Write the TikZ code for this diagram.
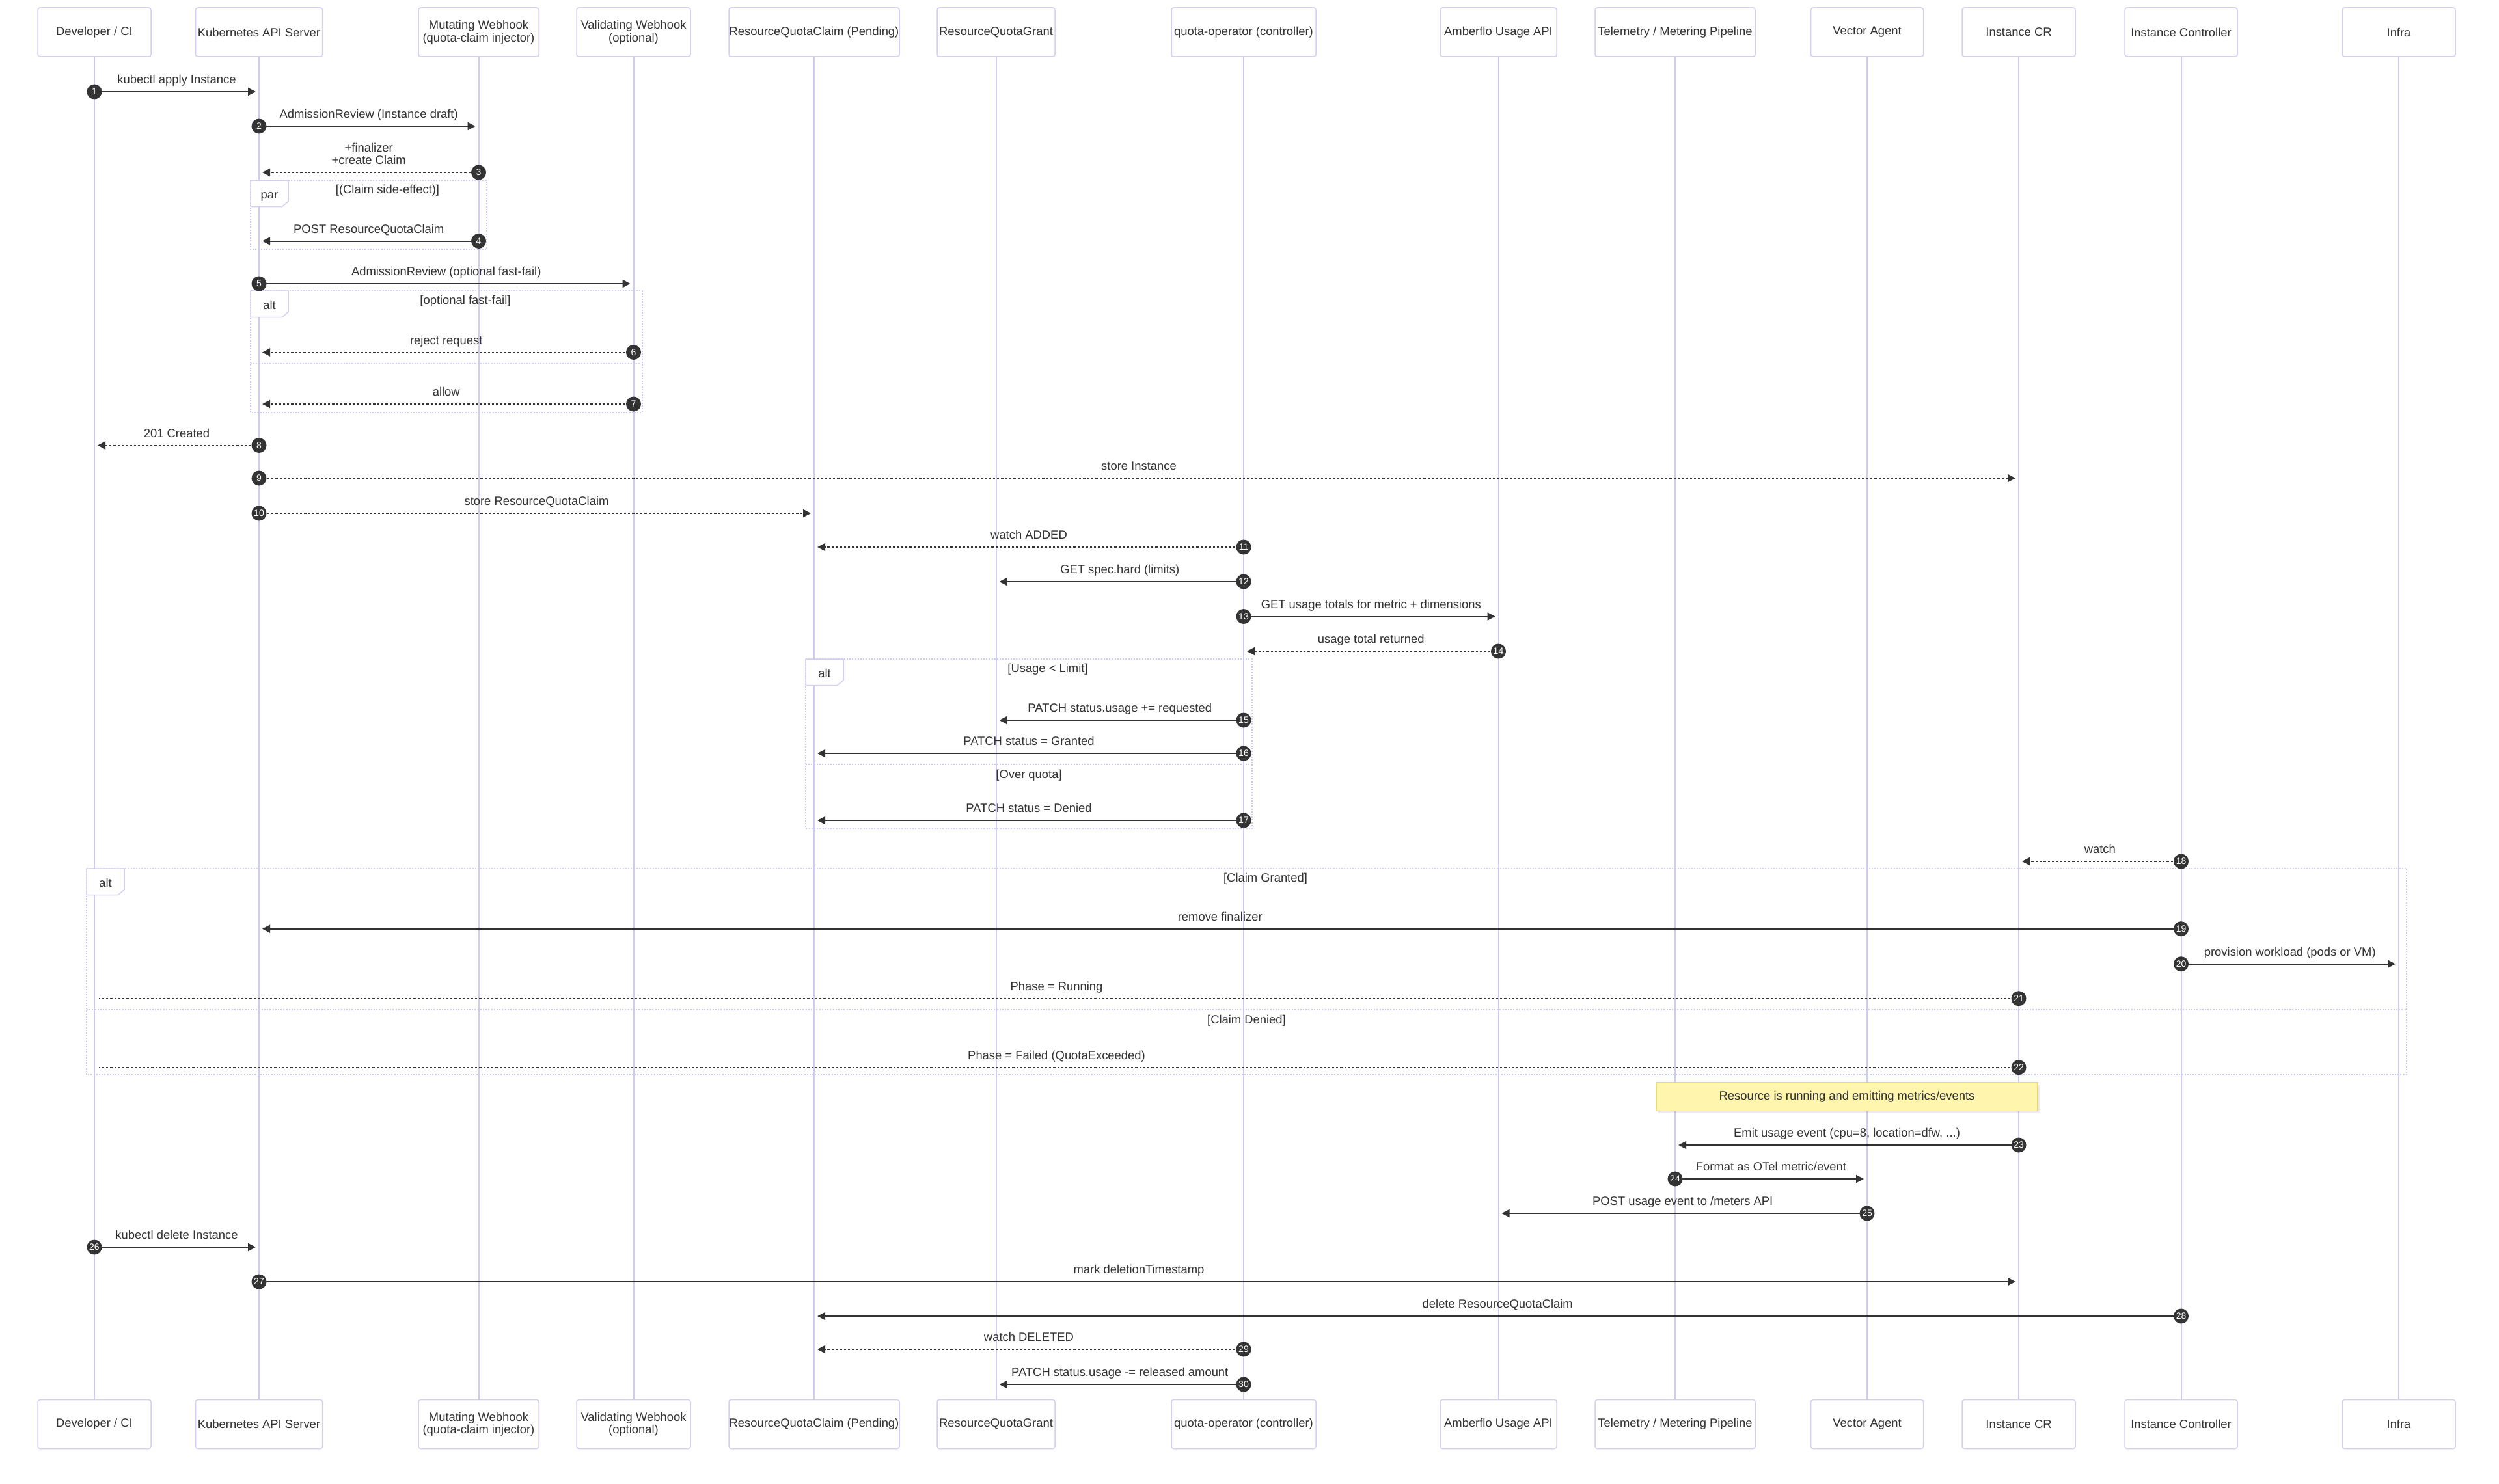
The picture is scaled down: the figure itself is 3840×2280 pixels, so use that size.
\documentclass[tikz,border=0pt]{standalone}
\usepackage{fontspec}
\setmainfont{Liberation Sans}
\usetikzlibrary{calc,arrows.meta}

\definecolor{ink}{HTML}{333333}
\definecolor{actorline}{RGB}{214,206,243}
\definecolor{lifeln}{RGB}{206,204,240}
\definecolor{loopln}{RGB}{204,202,240}
\definecolor{notefill}{HTML}{FFF5AD}
\definecolor{noteline}{RGB}{228,218,128}

\newcommand\txtfont{\fontsize{18.4}{19.5}\selectfont}

\tikzset{
  actorbox/.style={draw=actorline, line width=1.5pt, fill=white, rounded corners=3.5pt,
    minimum height=75pt, inner sep=0pt, align=center, text=ink, font=\txtfont},
  lifeline/.style={draw=lifeln, line width=2pt},
  msgline/.style={draw=ink, line width=2pt, -{Triangle[length=12pt,width=12pt]}},
  replyline/.style={msgline, dash pattern=on 3.3pt off 3pt},
  openreply/.style={draw=ink, line width=2pt, dash pattern=on 3.3pt off 3pt},
  msglabel/.style={text=ink, font=\txtfont, anchor=base, inner sep=0pt},
  seqnum/.style={circle, fill=ink, text=white, minimum size=23pt, inner sep=0pt,
    font=\fontsize{14}{14}\selectfont},
  loopframe/.style={draw=loopln, line width=2pt, dash pattern=on 2pt off 2.2pt},
  looptag/.style={draw=actorline, line width=1.5pt, fill=white},
  condtext/.style={text=ink, font=\txtfont, anchor=base, inner sep=0pt},
  notebox/.style={draw=noteline, line width=1.5pt, fill=notefill, text=ink, font=\txtfont,
    minimum width=586pt, minimum height=43.5pt, inner sep=0pt}
}

% message: style, from, to, y, end offset, number, label
\newcommand\seqmsg[7]{%
  \draw[#1] (#2 |- 0,#4) -- ($(#3 |- 0,#4)+(#5,0)$);
  \node[msglabel] (m#6) at ($(#2 |- 0,#4)!0.5!(#3 |- 0,#4)+(0,-12.5)$) {#7};
  \node[seqnum] (n#6) at (#2 |- 0,#4) {#6};
}

% combined fragment: name, x1, x2, y1, y2, tag, condition
\newcommand\fragment[7]{%
  \draw[loopframe] (#2,#4) rectangle (#3,#5);
  \draw[looptag] (#2,#4) -- ++(58,0) -- ++(0,32.5) -- ++(-9.5,8) -- (#2,{#4+40.5}) -- cycle;
  \node[condtext] (#1c) at ({(#2+58+#3)/2},{#4+20.5}) {#7};
  \node[condtext] (#1t) at ({#2+29},{#4+28.5}) {#6};
}

% fragment section divider: name, x1, x2, y, text
\newcommand\divider[5]{%
  \draw[loopframe] (#2,#4) -- (#3,#4);
  \node[condtext] (#1) at ({(#2+#3)/2},{#4+21.5}) {#5};
}

\begin{document}
\begin{tikzpicture}[x=1pt, y=-1pt]
\useasboundingbox (0,0) rectangle (3840,2280);

% participants, top and bottom, with lifelines
\foreach \n/\x/\w/\t in {
  dev/145/174/{Developer / CI},
  api/398/195/{Kubernetes API Server},
  mut/735.5/185/{Mutating Webhook\\(quota-claim injector)},
  val/973.5/175/{Validating Webhook\\(optional)},
  rqc/1251/262/{ResourceQuotaClaim (Pending)},
  rqg/1530.5/181/{ResourceQuotaGrant},
  qop/1911/222/{quota-operator (controller)},
  amb/2302.5/179/{Amberflo Usage API},
  tel/2574/246/{Telemetry / Metering Pipeline},
  vec/2869/173/{Vector Agent},
  icr/3102/174/{Instance CR},
  ict/3351.5/173/{Instance Controller},
  inf/3686/174/{Infra}}{
  \node[actorbox, minimum width=\w pt] (\n) at (\x,49.5) {\t};
  \node[actorbox, minimum width=\w pt] (\n B) at (\x,2189) {\t};
  \draw[lifeline] (\n) -- (\n B);
}

% combined fragments
\fragment{par}{385}{748}{277}{383}{par}{[(Claim side-effect)]}
\fragment{altA}{385}{987}{447}{634}{alt}{[optional fast-fail]}
\draw[loopframe] (385,558.5) -- (987,558.5);
\fragment{altB}{1238}{1924}{1013}{1273}{alt}{[Usage < Limit]}
\divider{overq}{1238}{1924}{1175}{[Over quota]}
\fragment{altC}{133}{3698}{1335}{1652}{alt}{[Claim Granted]}
\divider{denied}{133}{3698}{1552}{[Claim Denied]}

% note over the telemetry pipeline and the instance
\fill[black, opacity=0.08] (2547,1668) rectangle (3134,1710);
\node[notebox] (note) at (2838,1685.5) {Resource is running and emitting metrics/events};

% messages
\seqmsg{msgline}{dev}{api}{141}{-5}{1}{kubectl apply Instance}
\seqmsg{msgline}{api}{mut}{194}{-5}{2}{AdmissionReview (Instance draft)}
\seqmsg{replyline}{mut}{api}{265}{5}{3}{+create Claim}
\node[msglabel] (m3a) at ($(m3.base)+(0,-19.5)$) {+finalizer};
\seqmsg{msgline}{mut}{api}{370.5}{5}{4}{POST ResourceQuotaClaim}
\seqmsg{msgline}{api}{val}{436}{-5}{5}{AdmissionReview (optional fast-fail)}
\seqmsg{replyline}{val}{api}{541.5}{5}{6}{reject request}
\seqmsg{replyline}{val}{api}{621}{5}{7}{allow}
\seqmsg{replyline}{api}{dev}{684.5}{5}{8}{201 Created}
\seqmsg{replyline}{api}{icr}{735}{-5}{9}{store Instance}
\seqmsg{replyline}{api}{rqc}{789}{-5}{10}{store ResourceQuotaClaim}
\seqmsg{replyline}{qop}{rqc}{841}{5}{11}{watch ADDED}
\seqmsg{msgline}{qop}{rqg}{894}{5}{12}{GET spec.hard (limits)}
\seqmsg{msgline}{qop}{amb}{947.5}{-5}{13}{GET usage totals for metric + dimensions}
\seqmsg{replyline}{amb}{qop}{1001}{5}{14}{usage total returned}
\seqmsg{msgline}{qop}{rqg}{1107}{5}{15}{PATCH status.usage += requested}
\seqmsg{msgline}{qop}{rqc}{1158}{5}{16}{PATCH status = Granted}
\seqmsg{msgline}{qop}{rqc}{1261}{5}{17}{PATCH status = Denied}
\seqmsg{replyline}{ict}{icr}{1324}{5}{18}{watch}
\seqmsg{msgline}{ict}{api}{1427.7}{5}{19}{remove finalizer}
\seqmsg{msgline}{ict}{inf}{1481.7}{-5}{20}{provision workload (pods or VM)}
\seqmsg{openreply}{icr}{dev}{1534.7}{7}{21}{Phase = Running}
\seqmsg{openreply}{icr}{dev}{1640.7}{7}{22}{Phase = Failed (QuotaExceeded)}
\seqmsg{msgline}{icr}{tel}{1760}{5}{23}{Emit usage event (cpu=8, location=dfw, ...)}
\seqmsg{msgline}{tel}{vec}{1812}{-5}{24}{Format as OTel metric/event}
\seqmsg{msgline}{vec}{amb}{1865}{5}{25}{POST usage event to /meters API}
\seqmsg{msgline}{dev}{api}{1917}{-5}{26}{kubectl delete Instance}
\seqmsg{msgline}{api}{icr}{1970}{-5}{27}{mark deletionTimestamp}
\seqmsg{msgline}{ict}{rqc}{2023}{5}{28}{delete ResourceQuotaClaim}
\seqmsg{replyline}{qop}{rqc}{2074}{5}{29}{watch DELETED}
\seqmsg{msgline}{qop}{rqg}{2128}{5}{30}{PATCH status.usage -= released amount}
\end{tikzpicture}
\end{document}
